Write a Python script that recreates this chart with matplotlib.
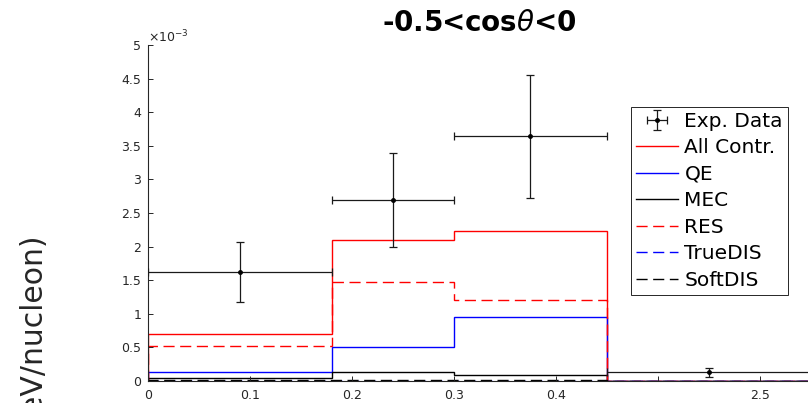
import matplotlib
matplotlib.use("Agg")
import matplotlib.pyplot as plt
from matplotlib.ticker import FixedLocator, FixedFormatter, MultipleLocator, FuncFormatter
import numpy as np

# Bin edges in x and cross sections per bin (in units of 1e-3)
bin_edges = [0.0, 0.18, 0.30, 0.45, 0.65]
all_contr = [0.70, 2.10, 2.23, 0.0]
qe = [0.14, 0.51, 0.95, 0.0]
mec = [0.05, 0.13, 0.094, 0.0]
res = [0.52, 1.48, 1.20, 0.0]
true_dis = [0.004, 0.004, 0.004, 0.0]
soft_dis = [0.008, 0.008, 0.008, 0.0]

# Measured points and their uncertainties (units of 1e-3)
data_y = [1.62, 2.69, 3.64, 0.13]
data_err = [0.45, 0.70, 0.91, 0.07]

x_ticks = [0.0, 0.1, 0.2, 0.3, 0.4, 0.5, 0.6]
x_tick_labels = ["0", "0.1", "0.2", "0.3", "0.4", "", "2.5"]

W, H = 808, 403
fig = plt.figure(figsize=(W / 100, H / 100), dpi=100)
ax = fig.add_axes([148 / W, (H - 381) / H, 663 / W, 336 / H])

edges = np.array(bin_edges)
centers = 0.5 * (edges[:-1] + edges[1:])
half_w = 0.5 * np.diff(edges)

dash = (0, (8, 4))
lw = 1.0
handles = []
handles.append(ax.errorbar(centers, data_y, yerr=data_err, xerr=half_w, fmt=".", color="black",
                           ecolor="#1a1a1a", elinewidth=0.9, capsize=3.2, capthick=0.9,
                           markersize=5, label="Exp. Data", zorder=5))
handles.append(ax.stairs(all_contr, edges, baseline=0, color="#ff0000", lw=lw, label="All Contr."))
handles.append(ax.stairs(qe, edges, baseline=0, color="#0000ff", lw=lw, label="QE"))
handles.append(ax.stairs(mec, edges, baseline=0, color="black", lw=lw, label="MEC"))
handles.append(ax.stairs(res, edges, baseline=0, color="#ff0000", lw=lw, linestyle=dash, label="RES"))
handles.append(ax.stairs(true_dis, edges, baseline=0, color="#0000ff", lw=lw, linestyle=dash,
                         label="TrueDIS"))
handles.append(ax.stairs(soft_dis, edges, baseline=0, color="black", lw=lw, linestyle=dash,
                         label="SoftDIS"))

ax.set_xlim(0, 0.65)
ax.set_ylim(0, 5)
ax.xaxis.set_major_locator(FixedLocator(x_ticks))
ax.xaxis.set_major_formatter(FixedFormatter(x_tick_labels))
ax.yaxis.set_major_locator(MultipleLocator(0.5))
ax.yaxis.set_major_formatter(FuncFormatter(lambda v, p: f"{v:g}"))

axis_col = "#262626"
for side in ("top", "right"):
    ax.spines[side].set_visible(False)
for side in ("left", "bottom"):
    ax.spines[side].set_color(axis_col)
    ax.spines[side].set_linewidth(0.8)
ax.tick_params(axis="both", direction="in", length=3.6, width=0.7, color=axis_col,
               labelcolor=axis_col, labelsize=9)
ax.tick_params(axis="y", pad=5)
ax.tick_params(axis="x", pad=6)

ax.text(0, 1.0, r"$\times10^{-3}$", transform=ax.transAxes, ha="left", va="bottom",
        fontsize=9, color=axis_col)

ax.set_title(r"-0.5<cos$\theta$<0", fontsize=20, fontweight="bold", pad=10)

fig.text(34.5 / W, 1 - 236 / H, "dσ/dp (cm²/GeV/nucleon)", rotation=90,
         ha="center", va="top", fontsize=21.5, color=axis_col)

leg = ax.legend(handles=handles, labels=[h.get_label() for h in handles],
                loc="upper right", bbox_to_anchor=(788 / W, 1 - 107 / H),
                bbox_transform=fig.transFigure, borderaxespad=0, fontsize=14.5,
                frameon=True, fancybox=False, edgecolor=axis_col, framealpha=1,
                handlelength=2.1, handletextpad=0.3, labelspacing=0.37, borderpad=0.25)
leg.get_frame().set_linewidth(0.7)

fig.savefig("out.png", dpi=100)
